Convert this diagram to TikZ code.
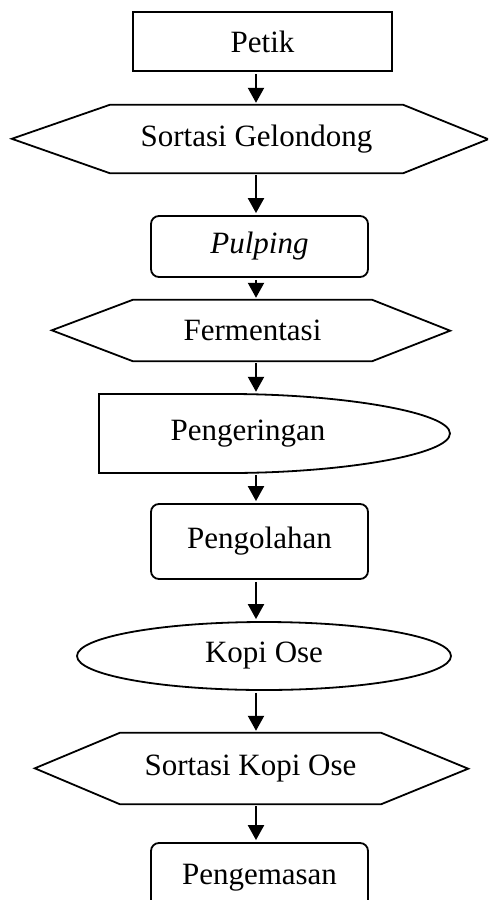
\documentclass[tikz,border=0pt]{standalone}
\usepackage{fontspec}
\setmainfont{Liberation Serif}
\usetikzlibrary{arrows.meta,shapes.geometric}
\tikzset{box/.style={draw, line width=1.8pt, minimum width=217pt, inner sep=0pt},
         rbox/.style={box, rounded corners=8pt},
         hexa/.style={inner sep=0pt},
         edge/.style={line width=1.8pt},
         flow/.style={line width=2.2pt, -{Triangle[length=15pt,width=16pt]}, shorten <=2pt, shorten >=2pt}}

\begin{document}
\begin{tikzpicture}[x=1pt, y=1pt, font=\fontsize{31}{36}\selectfont]
  \useasboundingbox (0,0) rectangle (488,-900);
  \clip (0,0) rectangle (488,-900);
  \coordinate (axis) at (256,0);

  % ---------- process steps ----------
  \node[box, minimum width=259pt, minimum height=59pt] (petik) at (262.5,-41.5) {Petik};
  \node[hexa, minimum width=293pt, minimum height=68pt] (sortgel) at (256.5,-139) {Sortasi Gelondong};
  \node[rbox, minimum height=61pt] (pulp) at (259.5,-246.5) {\textit{Pulping}};
  \node[hexa, minimum width=239pt, minimum height=61pt] (ferm) at (252.5,-330.5) {Fermentasi};
  \node[hexa, minimum height=79pt] (dry) at (248,-433.5) {Pengeringan};
  \node[rbox, minimum height=75pt] (olah) at (259.5,-541.5) {Pengolahan};
  \node[draw, ellipse, edge, inner sep=0pt, minimum width=374pt, minimum height=68pt] (kopi) at (264,-656) {Kopi Ose};
  \node[hexa, minimum width=261pt, minimum height=71pt] (sortkopi) at (250.5,-768.5) {Sortasi Kopi Ose};
  \node[rbox, minimum height=70pt] (kemas) at (259.5,-878) {Pengemasan};

  % ---------- hexagon outlines (pointed ends) ----------
  \draw[edge] (sortgel.north west) -- ++(-98,-34) -- (sortgel.south west)
              -- (sortgel.south east) -- ++(85,34) -- (sortgel.north east) -- cycle;
  \draw[edge] (ferm.north west) -- ++(-81,-30.5) -- (ferm.south west)
              -- (ferm.south east) -- ++(78,30.5) -- (ferm.north east) -- cycle;
  \draw[edge] (sortkopi.north west) -- ++(-85,-35.5) -- (sortkopi.south west)
              -- (sortkopi.south east) -- ++(87,35.5) -- (sortkopi.north east) -- cycle;

  % drying step: flat left side, long rounded nose on the right
  \draw[edge] (99,-394) -- (230,-394) .. controls (340,-394) and (450,-412) .. (450,-433.5)
              .. controls (450,-455) and (340,-473) .. (230,-473) -- (99,-473) -- cycle;

  % ---------- arrows, all on one vertical axis ----------
  \draw[flow] (petik.south -| axis) -- (sortgel.north -| axis);
  \draw[flow] (sortgel.south -| axis) -- (pulp.north -| axis);
  \draw[flow] (pulp.south -| axis) -- (ferm.north -| axis);
  \draw[flow] (ferm.south -| axis) -- (dry.north -| axis);
  \draw[flow] (dry.south -| axis) -- (olah.north -| axis);
  \draw[flow] (olah.south -| axis) -- (kopi.north -| axis);
  \draw[flow] (kopi.south -| axis) -- (sortkopi.north -| axis);
  \draw[flow] (sortkopi.south -| axis) -- (kemas.north -| axis);

\end{tikzpicture}
\end{document}
